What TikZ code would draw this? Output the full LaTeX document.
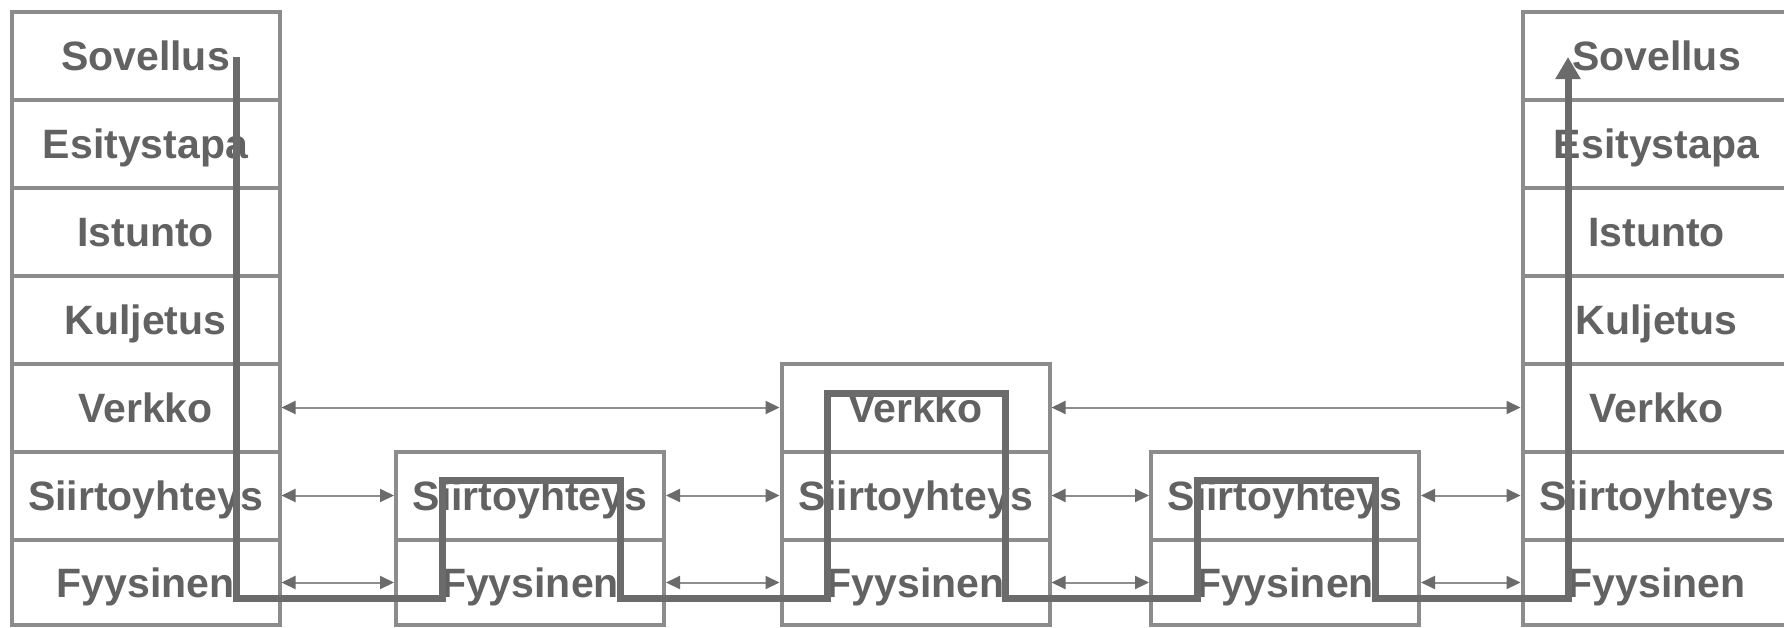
\documentclass[tikz,border=0pt]{standalone}
\usepackage{fontspec}
\setmainfont{Liberation Sans}
\usetikzlibrary{arrows.meta}
\definecolor{boxgray}{HTML}{8C8C8C}
\definecolor{pathgray}{HTML}{6B6B6B}
\definecolor{textgray}{HTML}{626262}
\definecolor{arrowgray}{HTML}{8E8E8E}
\begin{document}
\begin{tikzpicture}[x=1pt,y=-1pt,
  layerbox/.style={draw=boxgray, line width=4pt, minimum width=268pt, minimum height=88pt,
    inner sep=0pt, text height=29.5pt, text depth=0pt,
    font=\fontsize{41}{49}\selectfont\bfseries, text=textgray},
  lastbox/.style={layerbox, minimum height=85pt},
  peer/.style={draw=arrowgray, line width=2pt,
    {Triangle[length=14pt,width=13pt,color=pathgray]}-{Triangle[length=14pt,width=13pt,color=pathgray]}},
  flow/.style={draw=pathgray, line width=7pt, line join=miter,
    -{Triangle[length=22pt,width=24pt]}}]
\fill[white] (0,0) rectangle (1784,627);
\useasboundingbox (0,0) rectangle (1784,627);

% left stack
\node[layerbox] (L1) at (145.5,55.5) {Sovellus};
\node[layerbox] (L2) at (145.5,143.5) {Esitystapa};
\node[layerbox] (L3) at (145.5,231.5) {Istunto};
\node[layerbox] (L4) at (145.5,319.5) {Kuljetus};
\node[layerbox] (L5) at (145.5,407.5) {Verkko};
\node[layerbox] (L6) at (145.5,495.5) {Siirtoyhteys};
\node[lastbox] (L7) at (145.5,582.5) {Fyysinen};

% second stack
\node[layerbox] (A6) at (530,495.5) {Siirtoyhteys};
\node[lastbox] (A7) at (530,582.5) {Fyysinen};

% middle stack
\node[layerbox] (M5) at (915.5,407.5) {Verkko};
\node[layerbox] (M6) at (915.5,495.5) {Siirtoyhteys};
\node[lastbox] (M7) at (915.5,582.5) {Fyysinen};

% fourth stack
\node[layerbox] (B6) at (1285,495.5) {Siirtoyhteys};
\node[lastbox] (B7) at (1285,582.5) {Fyysinen};

% right stack
\node[layerbox] (R1) at (1656.5,55.5) {Sovellus};
\node[layerbox] (R2) at (1656.5,143.5) {Esitystapa};
\node[layerbox] (R3) at (1656.5,231.5) {Istunto};
\node[layerbox] (R4) at (1656.5,319.5) {Kuljetus};
\node[layerbox] (R5) at (1656.5,407.5) {Verkko};
\node[layerbox] (R6) at (1656.5,495.5) {Siirtoyhteys};
\node[lastbox] (R7) at (1656.5,582.5) {Fyysinen};

% peer arrows
\draw[peer] (L5.east) -- (M5.west);
\draw[peer] (M5.east) -- (R5.west);
\draw[peer] (L6.east) -- (A6.west);
\draw[peer] (A6.east) -- (M6.west);
\draw[peer] (M6.east) -- (B6.west);
\draw[peer] (B6.east) -- (R6.west);
\draw[peer] (L7.east) -- (A7.west);
\draw[peer] (A7.east) -- (M7.west);
\draw[peer] (M7.east) -- (B7.west);
\draw[peer] (B7.east) -- (R7.west);

% data path
\coordinate (c0) at (236,57);
\coordinate (c1) at (236,598);
\coordinate (c2) at (442,598);
\coordinate (c3) at (442,480);
\coordinate (c4) at (620,480);
\coordinate (c5) at (620,598);
\coordinate (c6) at (827,598);
\coordinate (c7) at (827,393);
\coordinate (c8) at (1005,393);
\coordinate (c9) at (1005,598);
\coordinate (c10) at (1197,598);
\coordinate (c11) at (1197,480);
\coordinate (c12) at (1375,480);
\coordinate (c13) at (1375,598);
\coordinate (c14) at (1568,598);
\coordinate (c15) at (1568,57);
\draw[flow] (c0) -- (c1) -- (c2) -- (c3) -- (c4) -- (c5) -- (c6) -- (c7) -- (c8)
  -- (c9) -- (c10) -- (c11) -- (c12) -- (c13) -- (c14) -- (c15);
\end{tikzpicture}
\end{document}
